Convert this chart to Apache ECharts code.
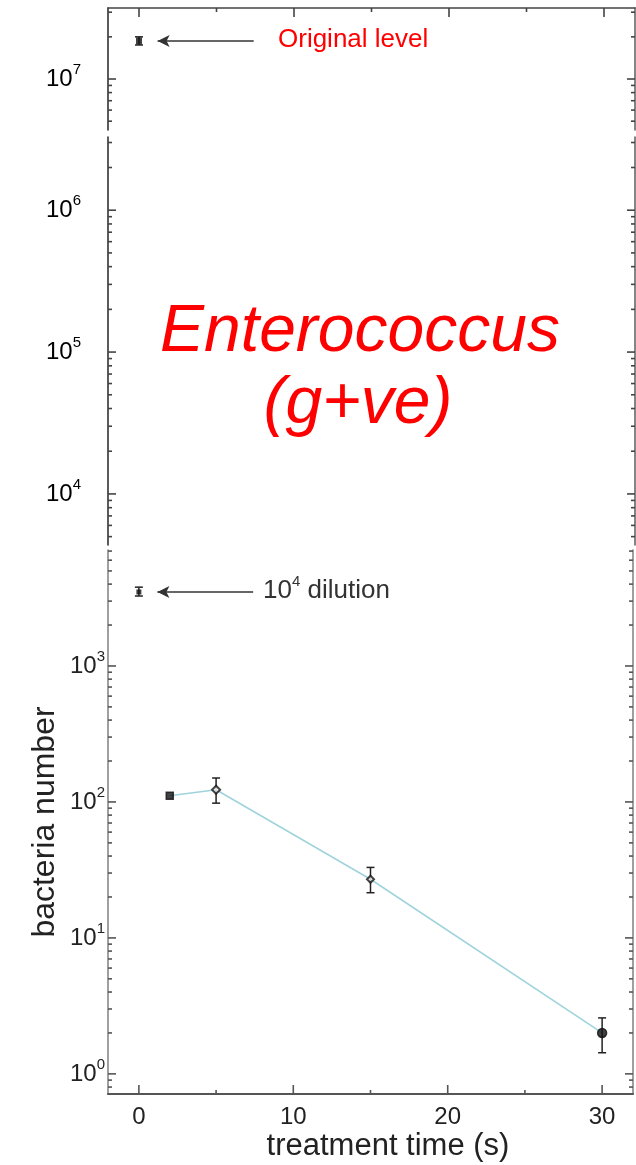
<!DOCTYPE html>
<html><head><meta charset="utf-8">
<script src="https://cdn.jsdelivr.net/npm/echarts@6/dist/echarts.min.js"></script>
<style>html,body{margin:0;padding:0;background:#fff}#c{width:636px;height:1165px}</style>
</head><body><div id="c"></div>
<script>
// ---- axes / ticks ----
const xRange = [-2, 32];
const xLabelTicks = [0, 10, 20, 30];
const xMinorTicks = [5, 15, 25];
// visible log10 range of each panel (composite, broken axis)
const topPanelExp = [6.636, 7.507];
const midPanelExp = [3.64, 6.516];
const botPanelExp = [-0.148, 3.853];
const topDecades = [7];
const midDecades = [6, 5, 4];
const botDecades = [0, 1, 2, 3];
const minorMultiples = [2, 3, 4, 5, 6, 7, 8, 9];

// ---- data ----
const originalTime = [0];
const originalLevel = [1.87e7];
const originalLow = [1.75e7];
const originalHigh = [2.0e7];

const dilutionTime = [0];
const dilutionLevel = [3500];
const dilutionLow = [3270];
const dilutionHigh = [3800];

const treatTime = [2, 5, 15, 30];
const treatCount = [111, 123, 27, 2.0];
const treatLow = [null, 98, 21.5, 1.43];
const treatHigh = [null, 150, 33, 2.58];

// annotation arrows (x in data units)
const arrowFromX = 7.4;
const arrowToX = 1.2;

// ---- styling ----
const treatSymbols = ['rect', 'emptyDiamond', 'emptyDiamond', 'circle'];
const treatSymbolSizes = [7, 8, 7, 9];

const chart = echarts.init(document.getElementById('c'));

function decadeLabel(v) {
  const l = Math.log10(v), e = Math.round(l);
  if (Math.abs(l - e) > 1e-6) return '';
  return '{b|10}{s|' + e + '}';
}
function pow10(e) { return Math.pow(10, e); }

function leftAxis(gi, exp, color, margin, fs, sfs, lblColor) {
  return {
    type: 'log', logBase: 10, gridIndex: gi, position: 'left',
    min: pow10(exp[0]), max: pow10(exp[1]),
    axisLine: { show: true, onZero: false, lineStyle: { color: color, width: 1.6 } },
    axisTick: { show: false }, minorTick: { show: false }, splitLine: { show: false },
    axisLabel: {
      formatter: decadeLabel, margin: margin,
      rich: {
        b: { fontSize: fs, fontFamily: 'Liberation Sans', color: lblColor, lineHeight: fs + 10 },
        s: { fontSize: sfs, fontFamily: 'Liberation Sans', color: lblColor, verticalAlign: 'top', lineHeight: sfs + 3 }
      }
    }
  };
}
function rightAxis(gi, exp, color) {
  return {
    type: 'log', logBase: 10, gridIndex: gi, position: 'right',
    min: pow10(exp[0]), max: pow10(exp[1]),
    axisLine: { show: true, onZero: false, lineStyle: { color: color, width: 1.6 } },
    axisTick: { show: false }, minorTick: { show: false }, splitLine: { show: false },
    axisLabel: { show: false }
  };
}

// tick specs: [x, y, dir, len]; dir 0=left edge, 1=right edge, 2=top edge, 3=bottom edge
function yTickData(exp, decades) {
  const out = [];
  decades.forEach(d => {
    out.push([xRange[0], pow10(d), 0, 8]);
    out.push([xRange[1], pow10(d), 1, 8]);
  });
  for (let d = Math.floor(exp[0]); d <= Math.ceil(exp[1]); d++) {
    minorMultiples.forEach(m => {
      const v = m * pow10(d);
      const l = Math.log10(v);
      if (l > exp[0] + 0.005 && l < exp[1] - 0.005) {
        out.push([xRange[0], v, 0, 4]);
        out.push([xRange[1], v, 1, 4]);
      }
    });
  }
  return out;
}
function xTickData(yVal, dir) {
  const out = [];
  xLabelTicks.forEach(x => out.push([x, yVal, dir, 9]));
  xMinorTicks.forEach(x => out.push([x, yVal, dir, 4]));
  return out;
}
function tickSeries(xi, yi, data, color) {
  return {
    type: 'custom', xAxisIndex: xi, yAxisIndex: yi, silent: true, z: 5,
    data: data,
    renderItem: function (params, api) {
      const p = api.coord([api.value(0), api.value(1)]);
      const dir = api.value(2), len = api.value(3);
      let x2 = p[0], y2 = p[1];
      if (dir === 0) x2 += len; else if (dir === 1) x2 -= len;
      else if (dir === 2) y2 += len; else y2 -= len;
      return { type: 'line', shape: { x1: p[0], y1: p[1], x2: x2, y2: y2 },
        style: { stroke: color, lineWidth: 1.6 } };
    }
  };
}
function errSeries(xi, yi, xs, lo, hi) {
  const data = [];
  xs.forEach((x, i) => { if (lo[i] != null) data.push([x, lo[i], hi[i]]); });
  return {
    type: 'custom', xAxisIndex: xi, yAxisIndex: yi, silent: true, z: 6,
    data: data,
    renderItem: function (params, api) {
      const a = api.coord([api.value(0), api.value(1)]);
      const b = api.coord([api.value(0), api.value(2)]);
      const w = 4;
      const st = { stroke: '#222', lineWidth: 1.5 };
      return { type: 'group', children: [
        { type: 'line', shape: { x1: a[0], y1: a[1], x2: b[0], y2: b[1] }, style: st },
        { type: 'line', shape: { x1: a[0] - w, y1: a[1], x2: a[0] + w, y2: a[1] }, style: st },
        { type: 'line', shape: { x1: b[0] - w, y1: b[1], x2: b[0] + w, y2: b[1] }, style: st }
      ] };
    }
  };
}
function arrowLine(y) {
  return {
    silent: true, symbol: ['none', 'arrow'], symbolSize: [9, 12],
    label: { show: false },
    lineStyle: { color: '#333', width: 1.6, type: 'solid' },
    data: [[{ coord: [arrowFromX, y] }, { coord: [arrowToX, y] }]]
  };
}

const grids = [
  { left: 108, right: 1, top: 8, height: 122 },
  { left: 108, right: 1, top: 137, height: 408 },
  { left: 108, right: 1, top: 550, height: 544 }
];

const option = {
  backgroundColor: '#fff',
  animation: false,
  grid: grids,
  xAxis: [
    { type: 'value', gridIndex: 0, position: 'top', min: xRange[0], max: xRange[1],
      axisLine: { show: true, onZero: false, lineStyle: { color: '#444', width: 1.6 } },
      axisTick: { show: false }, axisLabel: { show: false }, splitLine: { show: false } },
    { type: 'value', gridIndex: 1, min: xRange[0], max: xRange[1], show: false },
    { type: 'value', gridIndex: 2, position: 'bottom', min: xRange[0], max: xRange[1],
      axisLine: { show: true, onZero: false, lineStyle: { color: '#555', width: 2 } },
      axisTick: { show: false }, splitLine: { show: false },
      axisLabel: { margin: 11, fontSize: 24, fontFamily: 'Liberation Sans', color: '#222',
        formatter: v => xLabelTicks.indexOf(v) >= 0 ? String(v) : '' } }
  ],
  yAxis: [
    leftAxis(0, topPanelExp, '#333', 27, 24, 15, '#000'),
    rightAxis(0, topPanelExp, '#666'),
    leftAxis(1, midPanelExp, '#333', 27, 24, 15, '#000'),
    rightAxis(1, midPanelExp, '#666'),
    leftAxis(2, botPanelExp, '#888', 3, 24, 15, '#222'),
    rightAxis(2, botPanelExp, '#888')
  ],
  series: [
    tickSeries(0, 0, yTickData(topPanelExp, topDecades).concat(xTickData(pow10(topPanelExp[1]), 2)), '#444'),
    tickSeries(1, 2, yTickData(midPanelExp, midDecades), '#444'),
    tickSeries(2, 4, yTickData(botPanelExp, botDecades).concat(xTickData(pow10(botPanelExp[0]), 3)), '#555'),
    {
      type: 'scatter', xAxisIndex: 0, yAxisIndex: 0, z: 7,
      data: originalTime.map((t, i) => [t, originalLevel[i]]),
      symbol: 'rect', symbolSize: [6, 7], itemStyle: { color: '#111' },
      markLine: arrowLine(originalLevel[0])
    },
    errSeries(0, 0, originalTime, originalLow, originalHigh),
    {
      type: 'scatter', xAxisIndex: 2, yAxisIndex: 4, z: 7,
      data: dilutionTime.map((t, i) => [t, dilutionLevel[i]]),
      symbol: 'rect', symbolSize: [5, 5], itemStyle: { color: '#111' },
      markLine: arrowLine(dilutionLevel[0])
    },
    errSeries(2, 4, dilutionTime, dilutionLow, dilutionHigh),
    {
      type: 'line', xAxisIndex: 2, yAxisIndex: 4, z: 4,
      data: treatTime.map((t, i) => [t, treatCount[i]]),
      showSymbol: false, symbol: 'none',
      lineStyle: { color: '#9fd4dc', width: 1.6 }
    },
    errSeries(2, 4, treatTime, treatLow, treatHigh),
    {
      type: 'scatter', xAxisIndex: 2, yAxisIndex: 4, z: 7,
      data: treatTime.map((t, i) => ({
        value: [t, treatCount[i]], symbol: treatSymbols[i], symbolSize: treatSymbolSizes[i]
      })),
      itemStyle: { color: '#111', borderColor: '#111', borderWidth: 1.5 }
    }
  ],
  graphic: [
    { type: 'text', left: 278, top: 27, style: { text: 'Original level', fill: '#ff0000',
      font: '26px "Liberation Sans"' } },
    { type: 'text', left: 263, top: 574, style: { text: '{b|10}{s|4}{b| dilution}',
      rich: { b: { fontSize: 26, fontFamily: 'Liberation Sans', fill: '#333', lineHeight: 34 },
              s: { fontSize: 15, fontFamily: 'Liberation Sans', fill: '#333', verticalAlign: 'top', lineHeight: 16 } } } },
    { type: 'text', x: 360, y: 333, style: { text: 'Enterococcus', fill: '#ff0000', align: 'center',
      verticalAlign: 'middle', font: 'italic 66px "Liberation Sans"' } },
    { type: 'text', x: 358, y: 405, style: { text: '(g+ve)', fill: '#ff0000', align: 'center',
      verticalAlign: 'middle', font: 'italic 66px "Liberation Sans"' } },
    { type: 'text', x: 45, y: 822, rotation: Math.PI / 2, style: { text: 'bacteria number', fill: '#222',
      align: 'center', verticalAlign: 'middle', font: '32px "Liberation Sans"' } },
    { type: 'text', x: 388, y: 1146, style: { text: 'treatment time (s)', fill: '#222',
      align: 'center', verticalAlign: 'middle', font: '31px "Liberation Sans"' } }
  ]
};
chart.setOption(option);
</script></body></html>
